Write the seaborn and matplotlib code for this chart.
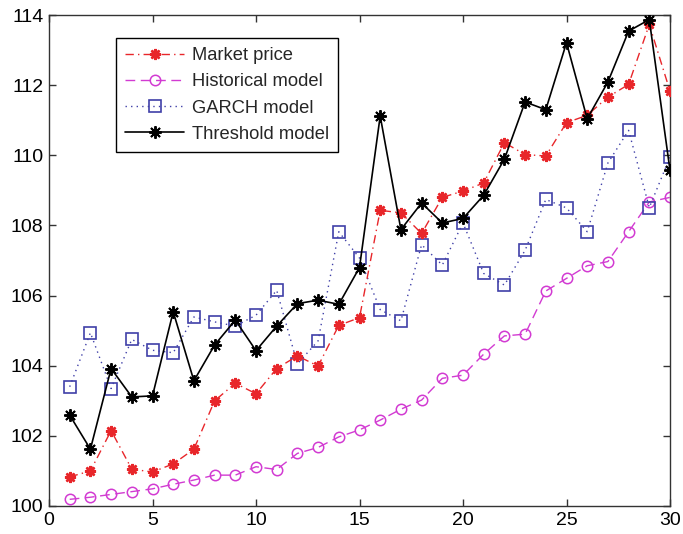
import numpy as np
import pandas as pd
import matplotlib
matplotlib.use("Agg")
import matplotlib.pyplot as plt
import seaborn as sns

days = list(range(1, 31))
market_price = [100.83, 101.00, 102.15, 101.05, 100.97, 101.20, 101.62, 103.00, 103.50, 103.20,
                103.92, 104.28, 103.99, 105.15, 105.37, 108.43, 108.36, 107.77, 108.80, 108.98,
                109.21, 110.36, 110.02, 109.98, 110.93, 111.14, 111.66, 112.02, 113.73, 111.83]
historical_model = [100.19, 100.25, 100.33, 100.41, 100.49, 100.62, 100.74, 100.88, 100.88, 101.12,
                    101.04, 101.50, 101.67, 101.97, 102.17, 102.45, 102.76, 103.02, 103.64, 103.73,
                    104.33, 104.85, 104.90, 106.13, 106.49, 106.85, 106.97, 107.82, 108.67, 108.80]
garch_model = [103.40, 104.94, 103.35, 104.75, 104.44, 104.37, 105.39, 105.25, 105.13, 105.44,
               106.15, 104.05, 104.71, 107.82, 107.07, 105.60, 105.28, 107.45, 106.87, 108.07,
               106.63, 106.30, 107.29, 108.74, 108.50, 107.82, 109.78, 110.71, 108.51, 109.95]
threshold_model = [102.59, 101.62, 103.92, 103.11, 103.14, 105.54, 103.57, 104.59, 105.30, 104.43,
                   105.13, 105.77, 105.87, 105.75, 106.80, 111.12, 107.88, 108.64, 108.07, 108.20,
                   108.86, 109.89, 111.52, 111.30, 113.21, 111.04, 112.09, 113.54, 113.87, 109.57]

series_names = ["Market price", "Historical model", "GARCH model", "Threshold model"]

x_ticks = [0, 5, 10, 15, 20, 25, 30]
y_ticks = [100, 102, 104, 106, 108, 110, 112, 114]

df = pd.DataFrame({
    "day": days * 4,
    "value": market_price + historical_model + garch_model + threshold_model,
    "series": sum([[n] * len(days) for n in series_names], []),
})

sns.set_theme(style="white")
plt.rcParams["font.family"] = ["Liberation Sans", "DejaVu Sans"]

fig = plt.figure(figsize=(6.83, 5.34), dpi=100)
ax = fig.add_axes([49 / 683, 28 / 534, 621 / 683, 491 / 534])

styles = {
    "Market price": dict(color="#e8262a", linestyle=(0, (6, 3, 1, 3)), marker=(8, 2, 0),
                         markersize=8, markeredgewidth=1.8, linewidth=1.0, zorder=3),
    "Historical model": dict(color="#d23bd2", linestyle=(0, (7, 4)), marker="o",
                             markersize=7.5, markeredgewidth=1.1, linewidth=1.0, zorder=2),
    "GARCH model": dict(color="#4040a8", linestyle=(0, (1, 3)), marker="s",
                        markersize=8.5, markeredgewidth=1.2, linewidth=1.0, zorder=2),
    "Threshold model": dict(color="black", linestyle="-", marker=(8, 2, 0),
                            markersize=9, markeredgewidth=1.4, linewidth=1.2, zorder=4),
}

handles = []
for name in series_names:
    sub = df[df["series"] == name]
    n_before = len(ax.lines)
    sns.lineplot(data=sub, x="day", y="value", ax=ax, sort=False, estimator=None,
                 legend=False, color=styles[name]["color"])
    line = ax.lines[n_before]
    st = styles[name]
    line.set_linestyle(st["linestyle"])
    line.set_linewidth(st["linewidth"])
    line.set_marker(st["marker"])
    line.set_markersize(st["markersize"])
    line.set_markeredgewidth(st["markeredgewidth"])
    line.set_markeredgecolor(st["color"])
    line.set_markerfacecolor("none")
    line.set_zorder(st["zorder"])
    line.set_label(name)
    handles.append(line)

ax.set_xlim(0, 30)
ax.set_ylim(100, 114)
ax.set_xticks(x_ticks)
ax.set_yticks(y_ticks)
ax.set_xlabel("")
ax.set_ylabel("")
ax.tick_params(direction="in", length=5, width=1, colors="#333333", labelcolor="black",
               labelsize=14, top=True, right=True, bottom=True, left=True, pad=4)
for sp in ax.spines.values():
    sp.set_color("#333333")
    sp.set_linewidth(1.0)
    sp.set_visible(True)

leg = ax.legend(handles=handles, labels=series_names, loc="upper left",
                bbox_to_anchor=(0.108, 0.953), fontsize=13.2,
                frameon=True, fancybox=False, edgecolor="black", framealpha=1,
                handlelength=3.2, borderpad=0.5, labelspacing=0.5, handletextpad=0.45,
                borderaxespad=0)
leg.get_frame().set_linewidth(1.0)

fig.savefig("out.png", dpi=100)
